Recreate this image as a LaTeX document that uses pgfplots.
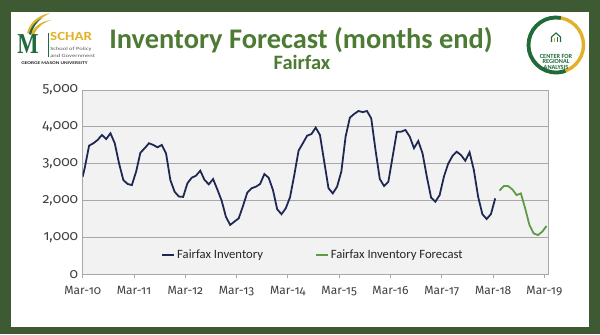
\documentclass[border=0pt]{standalone}
\usepackage{pgfplots}
\pgfplotsset{compat=1.18}
\usepackage{pgfplotstable}
\usepackage{fontspec}
\setmainfont{Carlito}
\newfontfamily\osfont[Numbers=OldStyle]{Fira Sans}
\newfontfamily\seriffont{Liberation Serif}
\definecolor{frame}{HTML}{3D5A33}
\definecolor{titlegreen}{HTML}{4E7B34}
\definecolor{navy}{HTML}{1F2853}
\definecolor{fcgreen}{HTML}{5E9B45}
\definecolor{gold}{HTML}{E3B02A}
\definecolor{gmugreen}{HTML}{1E6B3C}
\definecolor{gridgray}{HTML}{A8A8A8}
\definecolor{plotbg}{HTML}{F2F2F2}
\definecolor{labelgray}{HTML}{404040}

\pgfplotstableread{
x y
0.0 2650
0.5 2900
1.5 3490
2.5 3555
3.5 3645
4.5 3780
5.5 3670
6.5 3825
7.5 3555
8.5 3010
9.5 2560
10.5 2450
11.5 2420
12.5 2785
13.5 3300
14.5 3420
15.5 3555
16.5 3510
17.5 3445
18.5 3510
19.5 3280
20.5 2560
21.5 2240
22.5 2110
23.5 2100
24.5 2470
25.5 2620
26.5 2675
27.5 2810
28.5 2560
29.5 2440
30.5 2585
31.5 2300
32.5 2000
33.5 1560
34.5 1340
35.5 1430
36.5 1520
37.5 1855
38.5 2215
39.5 2335
40.5 2375
41.5 2450
42.5 2720
43.5 2620
44.5 2290
45.5 1765
46.5 1630
47.5 1790
48.5 2090
49.5 2695
50.5 3355
51.5 3555
52.5 3760
53.5 3805
54.5 3980
55.5 3780
56.5 3055
57.5 2335
58.5 2195
59.5 2375
60.5 2785
61.5 3735
62.5 4250
63.5 4350
64.5 4430
65.5 4400
66.5 4430
67.5 4230
68.5 3370
69.5 2585
70.5 2395
71.5 2510
72.5 3190
73.5 3870
74.5 3870
75.5 3915
76.5 3735
77.5 3420
78.5 3615
79.5 3280
80.5 2650
81.5 2080
82.5 1970
83.5 2150
84.5 2650
85.5 3000
86.5 3210
87.5 3325
88.5 3235
89.5 3080
90.5 3310
91.5 2830
92.5 2105
93.5 1630
94.5 1500
95.5 1635
96.5 2060
}\inventory

\pgfplotstableread{
x y
97.5 2270
98.5 2395
99.5 2395
100.5 2305
101.5 2150
102.5 2195
103.5 1790
104.5 1340
105.5 1110
106.5 1065
107.5 1155
108.5 1310
}\forecast

\begin{document}
\begin{tikzpicture}[x=1bp,y=1bp]
\useasboundingbox (0,0) rectangle (600,334);
\fill[frame] (0,0) rectangle (600,334);
\fill[white] (11,7) rectangle (589,322);
% titles
\node[anchor=base, font=\fontsize{28.5}{30}\selectfont\bfseries, text=titlegreen, inner sep=0] at (301,285.8) {Inventory Forecast (months end)};
\node[anchor=base, font=\fontsize{20.5}{22}\selectfont\bfseries, text=titlegreen, inner sep=0, text height=13.6bp, text depth=0bp] at (302,264.6) {Fairfax};
% left logo
\fill[gold] (27,301) .. controls (30,313) and (40,319) .. (50,321) .. controls (41,316) and (33,311) .. (30,300) -- cycle;
\fill[gold] (31,300) .. controls (35,309) and (43,313) .. (51,314) .. controls (43,311) and (37,307) .. (34,299) -- cycle;
\fill[gmugreen] (29,300) .. controls (31,308) and (36,313) .. (42,316) .. controls (37,312) and (33,307) .. (31,299) -- cycle;
\node[anchor=base, font=\seriffont\bfseries\fontsize{29}{29}\selectfont, text=gmugreen, xscale=0.78, inner sep=0] at (28,281) {M};
\draw[gmugreen, line width=1] (48,277) -- (48,301);
\node[anchor=base west, font=\bfseries\fontsize{12.5}{12.5}\selectfont, text=gold, inner sep=0, xscale=1.2] at (50,293.2) {SCHAR};
\node[anchor=base west, font=\fontsize{4.8}{4.8}\selectfont, text=black!65, inner sep=0, xscale=1.36] at (50,283.5) {School of Policy};
\node[anchor=base west, font=\fontsize{4.8}{4.8}\selectfont, text=black!65, inner sep=0, xscale=1.36] at (50,276.5) {and Government};
\node[anchor=base, font=\bfseries\fontsize{4.3}{4.3}\selectfont, text=black!85, xscale=1.27, inner sep=0] at (54.5,270) {GEORGE MASON UNIVERSITY};
% right logo
\draw[gold, line width=3.4] (556,289) circle (27.5);
\draw[gmugreen, line width=3.8] (556,289) ++(80:27.5) arc (80:290:27.5);
\draw[gmugreen, line width=1.1] (551.5,292) -- (551.5,297) -- (556,301) -- (560.5,297) -- (560.5,292);
\fill[gold] (554.2,292) rectangle (555.4,296);
\fill[gmugreen] (556.6,292) rectangle (557.8,297.5);
\node[anchor=base, font=\bfseries\fontsize{6.3}{6.3}\selectfont, text=gmugreen, inner sep=0] at (556,276) {CENTER FOR};
\node[anchor=base, font=\bfseries\fontsize{6.3}{6.3}\selectfont, text=gmugreen, inner sep=0] at (556,270.3) {REGIONAL};
\node[anchor=base, font=\bfseries\fontsize{6.3}{6.3}\selectfont, text=gmugreen, inner sep=0] at (556,264.6) {ANALYSIS};

\begin{axis}[
  at={(82.7bp,59.7bp)}, anchor=south west,
  scale only axis, width=465.3bp, height=184.3bp,
  xmin=0, xmax=108.85, ymin=0, ymax=5000,
  axis background/.style={fill=plotbg},
  axis line style={gridgray, line width=0.8bp},
  ymajorgrids, grid style={gridgray, line width=0.8bp},
  xtick={0,12,...,108},
  xticklabels={Mar-10,Mar-11,Mar-12,Mar-13,Mar-14,Mar-15,Mar-16,Mar-17,Mar-18,Mar-19},
  ytick={0,1000,...,5000},
  tick pos=left, xtick align=outside,
  major tick length=4bp,
  ytick style={draw=none},
  xtick style={gridgray, line width=0.8bp},
  yticklabel style={font=\osfont\fontsize{14}{15}\selectfont, text=labelgray, xshift=-1bp},
  xticklabel style={font=\osfont\fontsize{12}{13}\selectfont, text=labelgray, yshift=-4bp},
  /pgf/number format/1000 sep={,},
  /pgf/number format/assume math mode=true,
  legend columns=2,
  legend style={at={(0.495,0.105)}, anchor=center, draw=none, fill=none,
    font=\fontsize{12.7}{13}\selectfont, text=black!85,
    /tikz/every even column/.append style={column sep=50bp}},
  legend image code/.code={\draw[#1] (0bp,0bp) -- (12bp,0bp);},
]
\addplot[navy, line width=1.8pt] table[x=x,y=y] {\inventory};
\addlegendentry{Fairfax Inventory}
\addplot[fcgreen, line width=1.8pt] table[x=x,y=y] {\forecast};
\addlegendentry{Fairfax Inventory Forecast}
\end{axis}
\end{tikzpicture}
\end{document}
